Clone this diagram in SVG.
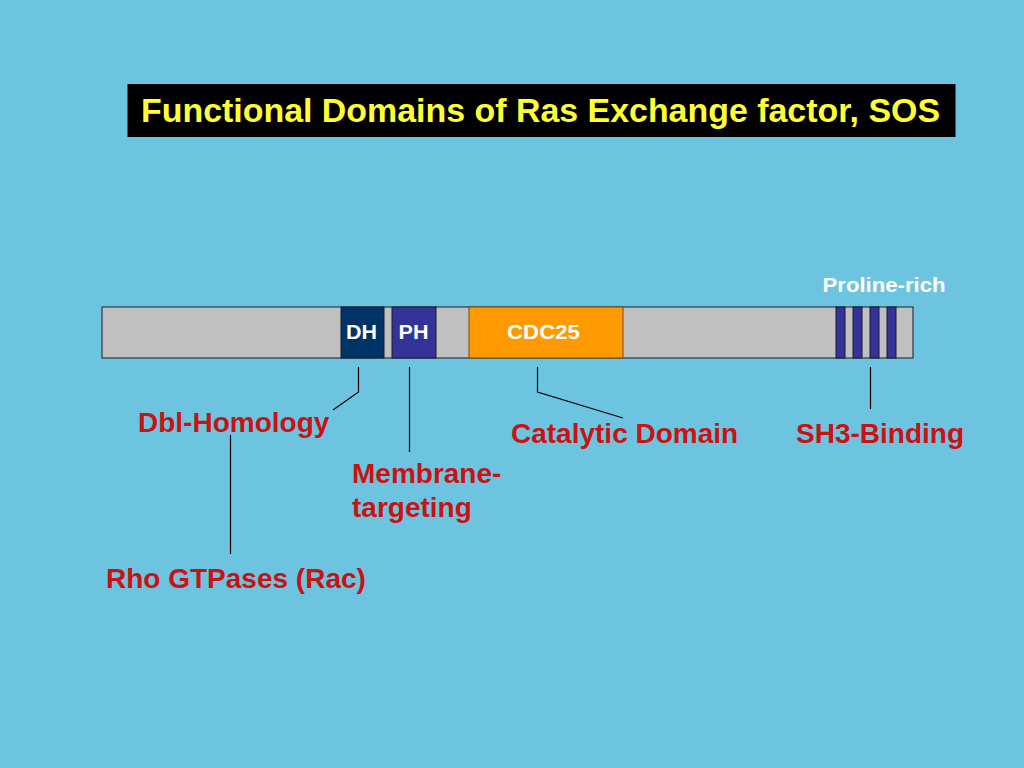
<svg xmlns="http://www.w3.org/2000/svg" width="1024" height="768" viewBox="0 0 1024 768">
<style>
.lbl{font-family:"Liberation Sans",Arial,sans-serif;font-weight:bold;fill:#CC1111;font-size:28px}
.in{font-family:"Liberation Sans",Arial,sans-serif;font-weight:bold;fill:#FFFFFF;font-size:21px;text-anchor:middle}
.ln{stroke:#000000;stroke-width:1.2;fill:none}
.dom{stroke:#1a1a2a;stroke-width:1}
</style>
<rect x="0" y="0" width="1024" height="768" fill="#6CC4E0"/>
<g id="title">
<rect x="127.5" y="84" width="828" height="53" fill="#000000"/>
<text x="141" y="122" font-family="Liberation Sans,Arial,sans-serif" font-weight="bold" font-size="34" fill="#FFFF33" textLength="799" lengthAdjust="spacingAndGlyphs">Functional Domains of Ras Exchange factor, SOS</text>
</g>
<g id="protein">
<rect x="102" y="307" width="811" height="51" fill="#C0C0C0" class="dom"/>
</g>
<g id="dh">
<rect x="341" y="307" width="43" height="51" fill="#003366" class="dom"/>
<text x="361.5" y="339" class="in" textLength="31" lengthAdjust="spacingAndGlyphs">DH</text>
</g>
<g id="ph">
<rect x="392" y="307" width="44" height="51" fill="#333399" class="dom"/>
<text x="413.5" y="339" class="in" textLength="30" lengthAdjust="spacingAndGlyphs">PH</text>
</g>
<g id="cdc25">
<rect x="469" y="307" width="154" height="51" fill="#FF9900" stroke="#7a4a10" stroke-width="1"/>
<text x="543.5" y="338.5" class="in" textLength="73" lengthAdjust="spacingAndGlyphs">CDC25</text>
</g>
<g id="proline">
<rect x="836" y="307" width="9" height="51" fill="#333399" class="dom"/>
<rect x="853" y="307" width="9" height="51" fill="#333399" class="dom"/>
<rect x="870" y="307" width="9" height="51" fill="#333399" class="dom"/>
<rect x="887" y="307" width="9" height="51" fill="#333399" class="dom"/>
<text x="884" y="291.5" class="in" textLength="123" lengthAdjust="spacingAndGlyphs">Proline-rich</text>
</g>
<g id="connectors">
<polyline class="ln" points="358.5,367 358.5,392 333,410"/>
<line class="ln" x1="409.5" y1="367" x2="409.5" y2="452"/>
<line class="ln" x1="230.5" y1="435" x2="230.5" y2="554"/>
<polyline class="ln" points="537.5,367 537.5,392 623,418"/>
<line class="ln" x1="870.5" y1="367" x2="870.5" y2="409"/>
</g>
<g id="dbl"><text x="138" y="432" class="lbl">Dbl-Homology</text></g>
<g id="membrane"><text x="352" y="483" class="lbl">Membrane-</text><text x="352" y="517" class="lbl">targeting</text></g>
<g id="catalytic"><text x="511" y="443" class="lbl">Catalytic Domain</text></g>
<g id="sh3"><text x="796" y="443" class="lbl">SH3-Binding</text></g>
<g id="rho"><text x="106" y="588" class="lbl">Rho GTPases (Rac)</text></g>
</svg>
